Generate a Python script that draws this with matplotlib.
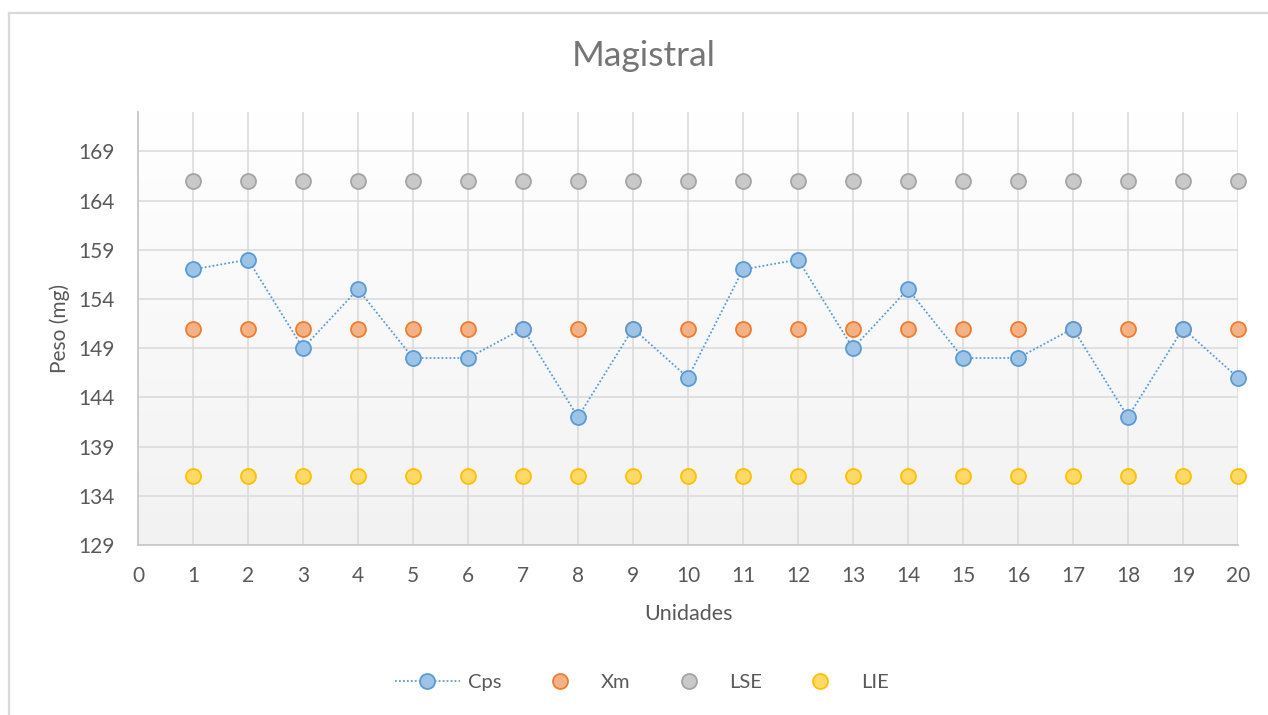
import numpy as np
import matplotlib
matplotlib.use("Agg")
import matplotlib.pyplot as plt
from matplotlib.lines import Line2D

plt.rcParams['font.family'] = ['Lato', 'DejaVu Sans']

# Data
unidades = list(range(1, 21))
cps = [157, 158, 149, 155, 148, 148, 151, 142, 151, 146,
       157, 158, 149, 155, 148, 148, 151, 142, 151, 146]
xm = [151] * 20
lse = [166] * 20
lie = [136] * 20
y_ticks = [129, 134, 139, 144, 149, 154, 159, 164, 169]
x_ticks = list(range(0, 21))

W, H = 1268, 715
fig = plt.figure(figsize=(W / 100, H / 100), dpi=100)
fig.patch.set_facecolor('white')

# Chart area border (left and top edges)
bx, by = 9 / W, 1 - 12.5 / H
fig.add_artist(Line2D([bx, bx], [0, by], transform=fig.transFigure,
                      color='#d9d9d9', lw=1.6))
fig.add_artist(Line2D([bx, 1], [by, by], transform=fig.transFigure,
                      color='#d9d9d9', lw=1.6))

left, right, top, bottom = 138, 1238, 112, 545
ax = fig.add_axes([left / W, 1 - bottom / H, (right - left) / W, (bottom - top) / H])

# Plot-area gradient: white at top to light grey at bottom
grad = np.linspace(1.0, 0.0, 256).reshape(-1, 1)
c_top = np.array([1.0, 1.0, 1.0])
c_bot = np.array([0xf2, 0xf2, 0xf2]) / 255
img = c_bot + (c_top - c_bot) * grad[..., None]
img = img.reshape(256, 1, 3)
ax.imshow(img, extent=[0, 1, 0, 1], transform=ax.transAxes, aspect='auto', zorder=0)
ax.set_xlim(0, 20)
ax.set_ylim(129, 173)

ax.set_xticks(x_ticks)
ax.set_yticks(y_ticks)
ax.grid(True, color='#d9d9d9', lw=1.1, zorder=1)
ax.set_axisbelow(True)
ax.tick_params(length=0, labelsize=15, labelcolor='#595959')
ax.tick_params(axis='y', pad=17)
ax.tick_params(axis='x', pad=15)
for s in ['top', 'right']:
    ax.spines[s].set_visible(False)
for s in ['left', 'bottom']:
    ax.spines[s].set_color('#c8c8c8')
    ax.spines[s].set_linewidth(1.3)

ms = 10.8
mew = 1.3
ax.plot(unidades, cps, linestyle=(0, (1, 1.2)), color='#5b9bd5', lw=1.3,
        marker='o', ms=ms, mfc='#9dc3e6', mec='#5b9bd5', mew=mew,
        label='Cps', zorder=5, clip_on=False)
ax.plot(unidades, xm, linestyle='none', marker='o', ms=ms, mfc='#f4b183',
        mec='#ed7d31', mew=mew, label='Xm', zorder=4, clip_on=False)
ax.plot(unidades, lse, linestyle='none', marker='o', ms=ms, mfc='#c9c9c9',
        mec='#a5a5a5', mew=mew, label='LSE', zorder=4, clip_on=False)
ax.plot(unidades, lie, linestyle='none', marker='o', ms=ms, mfc='#ffd966',
        mec='#ffc000', mew=mew, label='LIE', zorder=4, clip_on=False)

ax.set_xlabel('Unidades', fontsize=15.5, color='#595959', labelpad=13)
ax.set_ylabel('Peso (mg)', fontsize=15, color='#595959', labelpad=6)

fig.text(643.5 / W, 1 - 56 / H, 'Magistral', ha='center', va='center',
         fontsize=25.5, color='#757575')

fig.legend(loc='center', bbox_to_anchor=(642 / W, 1 - 682 / H), ncol=4,
           frameon=False, fontsize=14.5, labelcolor='#595959',
           handlelength=3.2, handletextpad=0.42, columnspacing=1.3,
           borderpad=0)

fig.savefig('out.png', dpi=100, facecolor='white')
